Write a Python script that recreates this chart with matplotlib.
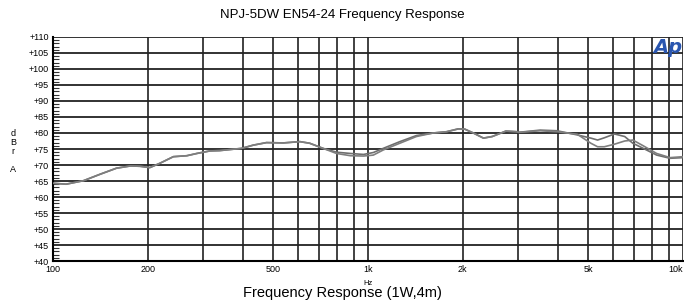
import numpy as np
import matplotlib.pyplot as plt
from matplotlib.ticker import FixedLocator, NullFormatter

plt.rcParams['font.family'] = ['Liberation Sans', 'DejaVu Sans']

# ---------------- data ----------------
freq_a = [100, 110, 125, 141, 159, 176, 189, 203, 218, 241, 266, 286, 315, 338, 397,
          432, 476, 539, 608, 653, 720, 795, 880, 968, 1040, 1118, 1262, 1425, 1610,
          1777, 1937, 2030, 2160, 2325, 2480, 2740, 2960, 3000, 3521, 3980, 4620,
          5100, 5357, 5627, 6060, 6530, 6930, 7480, 8250, 9100, 10000]
db_a = [64.3, 64.0, 65.1, 67.1, 69.0, 69.7, 69.6, 69.2, 70.5, 72.6, 72.9, 73.6, 74.4,
        74.5, 75.2, 76.2, 77.0, 76.9, 77.3, 76.8, 75.2, 74.0, 73.6, 73.3, 73.9, 75.2,
        77.3, 79.2, 80.0, 80.4, 81.3, 81.2, 80.0, 78.4, 78.9, 80.6, 80.4, 80.2, 80.9,
        80.7, 79.4, 78.4, 77.8, 78.5, 79.7, 78.9, 76.8, 75.2, 73.1, 72.1, 72.3]

freq_b = [100, 110, 125, 141, 159, 176, 189, 203, 218, 241, 266, 286, 315, 338, 397,
          432, 476, 539, 608, 653, 720, 795, 880, 968, 1040, 1118, 1262, 1425, 1610,
          1777, 1937, 2030, 2160, 2325, 2480, 2740, 2960, 3000, 3521, 3980, 4620,
          5100, 5357, 5627, 6060, 6530, 6930, 7480, 8250, 9100, 10000]
db_b = [64.3, 64.0, 65.1, 67.1, 69.0, 69.7, 69.6, 69.2, 70.5, 72.6, 72.9, 73.6, 74.4,
        74.5, 75.2, 76.2, 77.0, 76.9, 77.3, 76.8, 75.2, 73.6, 72.9, 72.8, 73.1, 74.7,
        76.8, 78.9, 80.0, 80.4, 81.3, 81.2, 80.0, 78.4, 78.9, 80.6, 80.4, 80.2, 80.7,
        80.4, 79.6, 76.8, 75.7, 75.7, 76.5, 77.5, 77.8, 76.0, 73.6, 72.3, 72.6]

x_ticks = [100, 200, 500, 1000, 2000, 5000, 10000]
x_labels = ['100', '200', '500', '1k', '2k', '5k', '10k']
y_ticks = list(range(40, 111, 5))
y_labels = ['+%d' % v for v in y_ticks]

# ---------------- plotting ----------------
fig = plt.figure(figsize=(6.84, 3.03), dpi=100)
ax = fig.add_axes([0.0775, 0.1386, 0.921, 0.7393])

grid_x = [m * 10 ** d for d in (2, 3) for m in range(1, 10)] + [10000]
for gx in grid_x:
    ax.axvline(gx, color='#333333', lw=1.3, zorder=1)
for gy in y_ticks:
    ax.axhline(gy, color='#222222', lw=1.3, zorder=1)

ax.plot(freq_a, db_a, color='#6e6e6e', lw=1.2, zorder=3)
ax.plot(freq_b, db_b, color='#7e7e7e', lw=1.2, zorder=3)

ax.set_xscale('log')
ax.set_xlim(100, 10000)
ax.set_ylim(40, 110)

ax.set_xticks(x_ticks)
ax.set_xticklabels(x_labels, fontsize=6.5)
ax.get_xticklabels()[-1].set_horizontalalignment('right')
ax.xaxis.set_minor_locator(FixedLocator([]))
ax.xaxis.set_minor_formatter(NullFormatter())
ax.tick_params(axis='x', length=0, pad=3)

ax.set_yticks(y_ticks)
ax.set_yticklabels(y_labels, fontsize=6.5)
ax.yaxis.set_minor_locator(FixedLocator(np.arange(40, 110.1, 1)))
ax.tick_params(axis='y', which='major', length=0, pad=3)
ax.tick_params(axis='y', which='minor', direction='in', length=4, width=0.8, color='#333333')

for side in ('top', 'right'):
    ax.spines[side].set_visible(False)
ax.spines['left'].set_linewidth(1.5)
ax.spines['bottom'].set_linewidth(1.5)

fig.text(0.5, 0.95, 'NPJ-5DW EN54-24 Frequency Response', ha='center', va='center', fontsize=9.5)
fig.text(0.019, 0.50, 'd\nB\nr\n\nA', ha='center', va='center', fontsize=6.5, linespacing=1.0)
fig.text(0.538, 0.065, 'Hz', ha='center', va='center', fontsize=5.5)
fig.text(0.5, 0.033, 'Frequency Response (1W,4m)', ha='center', va='center', fontsize=10.5)
fig.text(0.976, 0.842, 'Ap', ha='center', va='center', fontsize=14, color='#2a56b0',
         fontweight='bold', fontstyle='italic', family='DejaVu Sans')

fig.savefig('out.png', dpi=100)
